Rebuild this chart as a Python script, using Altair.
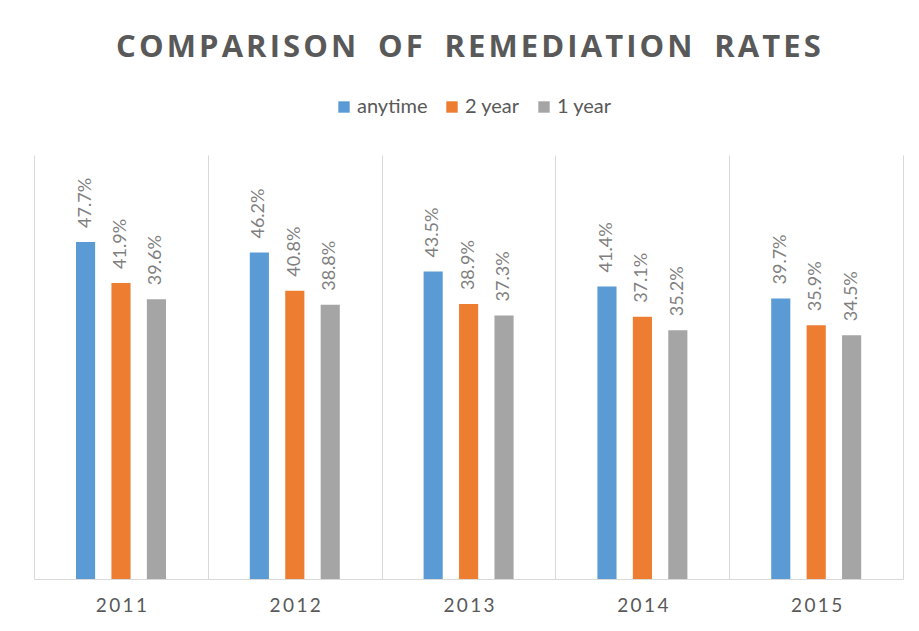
import altair as alt
import pandas as pd

years = ["2011", "2012", "2013", "2014", "2015"]
series = ["anytime", "2 year", "1 year"]
anytime = [0.477, 0.462, 0.435, 0.414, 0.397]
two_year = [0.419, 0.408, 0.389, 0.371, 0.359]
one_year = [0.396, 0.388, 0.373, 0.352, 0.345]
colors = ["#5B9BD5", "#ED7D31", "#A5A5A5"]

rows = []
for i, y in enumerate(years):
    for s, vals in zip(series, [anytime, two_year, one_year]):
        rows.append({"year": y, "series": s, "rate": vals[i]})
df = pd.DataFrame(rows)

FONT = "Lato"
HS = "\u200a"  # hair space for letter spacing
title_text = "COMPARISON OF REMEDIATION RATES"
spaced_title = HS.join(list(title_text)).replace(" ", "\u2002")

x_enc = alt.X(
    "year:N",
    sort=years,
    scale=alt.Scale(paddingInner=0, paddingOuter=0),
    axis=alt.Axis(
        title=None,
        labelAngle=0,
        tickBand="extent",
        grid=True,
        gridColor="#D9D9D9",
        gridWidth=1,
        ticks=False,
        domainColor="#D9D9D9",
        domainWidth=1,
        labelFont=FONT,
        labelFontSize=19,
        labelColor="#595959",
        labelPadding=17,
        labelExpr="join(split(datum.label, ''), '\u2009')",
    ),
)
off_scale = alt.Scale(paddingInner=0.46, paddingOuter=0, range=[42, 132])
xoff = alt.XOffset("series:N", sort=series, scale=off_scale)
y_enc = alt.Y("rate:Q", scale=alt.Scale(domain=[0, 0.6]), axis=None)

bars = alt.Chart(df).mark_bar().encode(
    x=x_enc,
    xOffset=xoff,
    y=y_enc,
    color=alt.Color(
        "series:N",
        sort=series,
        scale=alt.Scale(domain=series, range=colors),
        legend=alt.Legend(
            title=None,
            orient="none",
            legendX=300,
            legendY=-58,
            direction="horizontal",
            symbolType="square",
            symbolSize=130,
            symbolStrokeWidth=0,
            labelFont=FONT,
            labelFontSize=20,
            labelColor="#595959",
            labelOffset=3,
            columnPadding=14,
        ),
    ),
)

labels = alt.Chart(df).mark_text(
    angle=270, align="left", baseline="middle", dx=14,
    font=FONT, fontSize=18, color="#7F7F7F",
).encode(
    x=alt.X("year:N", sort=years),
    xOffset=alt.XOffset("series:N", sort=series),
    y=alt.Y("rate:Q"),
    text=alt.Text("rate:Q", format=".1%"),
)

chart = alt.layer(bars, labels).properties(
    width=869,
    height=424,
    autosize=alt.AutoSizeParams(type="none"),
    padding={"left": 26, "top": 147, "right": 8, "bottom": 44},
    title=alt.TitleParams(
        spaced_title,
        font="Open Sans",
        fontSize=31,
        fontWeight="bold",
        color="#595959",
        anchor="middle",
        offset=33,
    ),
).configure_view(stroke=None)

chart.save("out.html", embed_options={"renderer": "svg", "actions": False})
